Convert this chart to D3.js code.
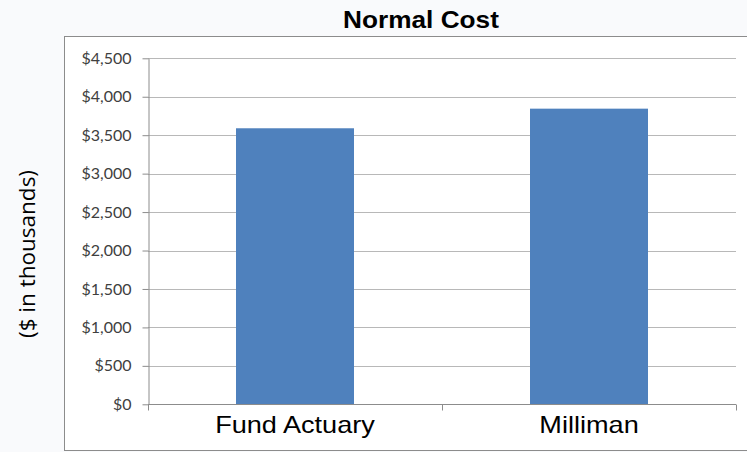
<!DOCTYPE html>
<html><head><meta charset="utf-8">
<script src="https://cdn.jsdelivr.net/npm/d3@7"></script>
<style>html,body{margin:0;padding:0;background:#f9fafc;}svg{display:block;}</style>
</head><body>
<svg id="c" width="747" height="452"></svg>
<script>
const categories = ["Fund Actuary", "Milliman"];
const values = [3590, 3845];
const yTicks = [0, 500, 1000, 1500, 2000, 2500, 3000, 3500, 4000, 4500];
const title = "Normal Cost";
const yLabel = "($ in thousands)";

const svg = d3.select("#c");
const W = 747, H = 452;
const m = {left:148, right:736, top:58.3, bottom:404.3};

// frame
svg.append("rect").attr("x",64.5).attr("y",36.5).attr("width",W).attr("height",414)
  .attr("fill","#ffffff").attr("stroke","#8c8c8c").attr("stroke-width",1);

const x = d3.scaleBand().domain(categories).range([m.left, m.right]).paddingInner(0).paddingOuter(0);
const y = d3.scaleLinear().domain([0,4500]).range([m.bottom, m.top]);

// gridlines
svg.append("g").selectAll("line").data(yTicks.filter(d=>d>0)).join("line")
  .attr("x1",m.left).attr("x2",m.right)
  .attr("y1",d=>Math.round(y(d))+0.5).attr("y2",d=>Math.round(y(d))+0.5)
  .attr("stroke","#b8b8b8").attr("stroke-width",1);

// bars
const bw = 118;
svg.append("g").selectAll("rect").data(values).join("rect")
  .attr("x",(d,i)=>x(categories[i]) + x.bandwidth()/2 - bw/2)
  .attr("width",bw)
  .attr("y",d=>y(d))
  .attr("height",d=>y(0)-y(d))
  .attr("fill","#4f81bd");

// y axis
const ya = svg.append("g").attr("transform",`translate(${m.left+0.5},0)`)
  .call(d3.axisLeft(y).tickValues(yTicks).tickSize(6).tickSizeOuter(0)
    .tickFormat(d=>"$"+d3.format(",")(d)));
ya.select(".domain").attr("stroke","#8c8c8c");
ya.selectAll(".tick line").attr("stroke","#8c8c8c");
ya.selectAll(".tick text").attr("font-family","Lato, 'Open Sans', sans-serif")
  .attr("font-size",16).attr("fill","#404040").attr("x",-17);

// x axis
const xa = svg.append("g").attr("transform",`translate(0,${Math.round(y(0))+0.5})`);
xa.append("line").attr("x1",m.left).attr("x2",m.right).attr("stroke","#8c8c8c");
const bounds = [m.left, ...categories.map(c=>x(c)+x.bandwidth())];
xa.selectAll(".tk").data(bounds).join("line").attr("class","tk")
  .attr("x1",d=>Math.round(d)+0.5).attr("x2",d=>Math.round(d)+0.5)
  .attr("y1",0).attr("y2",6).attr("stroke","#8c8c8c");
xa.selectAll("text").data(categories).join("text")
  .attr("transform",d=>`translate(${x(d)+x.bandwidth()/2},28.5) scale(1.13,1)`)
  .attr("text-anchor","middle")
  .attr("font-family","'Liberation Sans', Arial, sans-serif")
  .attr("font-size",24).attr("fill","#000").text(d=>d);

// title
svg.append("text").attr("transform","translate(421,28) scale(1.14,1)").attr("text-anchor","middle")
  .attr("font-family","'Liberation Sans', Arial, sans-serif").attr("font-weight","bold")
  .attr("font-size",23).attr("fill","#000").text(title);

// y label
svg.append("text").attr("transform","translate(35,254) rotate(-90)")
  .attr("text-anchor","middle")
  .attr("font-family","'Open Sans', Lato, sans-serif")
  .attr("font-size",22.5).attr("fill","#000").text(yLabel);
</script>
</body></html>
